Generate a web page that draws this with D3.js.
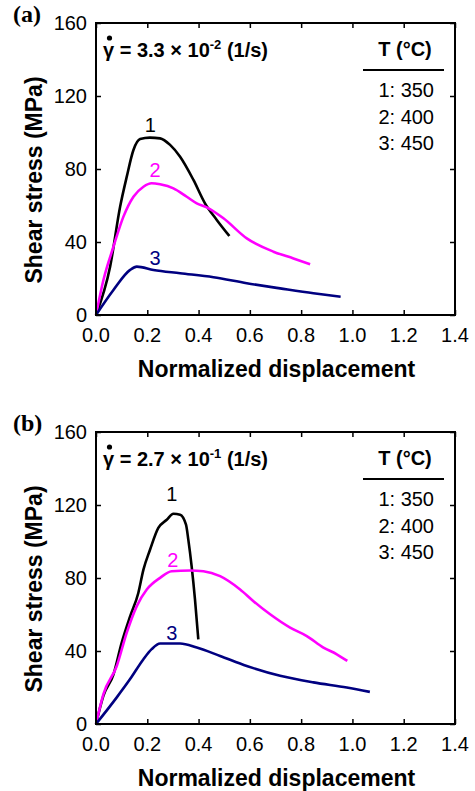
<!DOCTYPE html>
<html>
<head>
<meta charset="utf-8">
<script src="https://cdn.jsdelivr.net/npm/d3@7"></script>
<style>
  body { margin: 0; background: #fff; }
  text { font-family: "Liberation Sans", Arial, sans-serif; }
</style>
</head>
<body>
<script>
var xTicks = [0, 0.2, 0.4, 0.6, 0.8, 1.0, 1.2, 1.4];
var yTicks = [0, 40, 80, 120, 160];
var legendRows = ["1: 350", "2: 400", "3: 450"];

// panel (a), strain rate 3.3e-2
var a350 = [[0, 0], [0.055, 26.5], [0.094, 59.3], [0.12, 75.8], [0.146, 90.4], [0.172, 96.4], [0.21, 97.2], [0.25, 96.8],
    [0.289, 93.2], [0.328, 86.7], [0.38, 74.0], [0.425, 61.2], [0.471, 52.1], [0.52, 43.3]];
var a400 = [[0, 0], [0.029, 19.2], [0.068, 37.4], [0.107, 53.9], [0.146, 64.8], [0.185, 70.3], [0.217, 72.2], [0.25, 71.6],
    [0.302, 69.4], [0.354, 64.8], [0.393, 61.2], [0.432, 59.0], [0.497, 53.0], [0.588, 42.0], [0.692, 34.7],
    [0.77, 31.0], [0.835, 27.8]];
var a450 = [[0, 0], [0.068, 13.7], [0.133, 24.7], [0.159, 26.5], [0.224, 24.7], [0.328, 22.9], [0.458, 20.7],
    [0.588, 17.4], [0.718, 14.6], [0.848, 11.9], [0.954, 10.0]];

// panel (b), strain rate 2.7e-1
var b350 = [[0, 0], [0.029, 15.5], [0.068, 27.1], [0.1, 44.5], [0.133, 59.0], [0.165, 71.8], [0.185, 84.6], [0.211, 95.6],
    [0.243, 107.4], [0.276, 111.9], [0.302, 115.2], [0.328, 114.7], [0.351, 109.2], [0.36, 101.0], [0.373, 86.4],
    [0.386, 68.3], [0.399, 46.4]];
var b400 = [[0, 0], [0.029, 16.4], [0.081, 31.8], [0.12, 50.1], [0.159, 64.6], [0.198, 73.7], [0.25, 80.1], [0.295, 83.7],
    [0.367, 84.1], [0.419, 83.7], [0.484, 81.0], [0.562, 73.7], [0.614, 67.3], [0.679, 60.1], [0.757, 52.8],
    [0.822, 48.2], [0.887, 41.9], [0.939, 38.2], [0.98, 34.6]];
var b450 = [[0, 0], [0.081, 14.6], [0.133, 24.6], [0.185, 35.5], [0.217, 41.0], [0.25, 44.1], [0.328, 44.1], [0.393, 41.9],
    [0.484, 37.3], [0.588, 31.8], [0.718, 26.4], [0.848, 22.8], [0.978, 20.0], [1.068, 17.6]];

var colors = ["#000000", "#ff00ff", "#000080"];

var width = 475, height = 791,
    plotLeft = 96, plotRight = 455, plotH = 292;

var svg = d3.select("body").append("svg")
    .attr("width", width)
    .attr("height", height);

var x = d3.scaleLinear().domain([0, 1.4]).range([plotLeft, plotRight]);

function drawPanel(top, tag, rate, exp, series, labels) {
    var y = d3.scaleLinear().domain([0, 160]).range([top + plotH, top]);
    var g = svg.append("g");

    // tick marks on all four sides, pointing inward
    g.append("g").attr("transform", "translate(0," + (top + plotH) + ")")
        .call(d3.axisBottom(x).tickValues(xTicks).tickSizeInner(-5).tickSizeOuter(0).tickFormat(""))
        .call(function (s) { s.select(".domain").remove(); });
    g.append("g").attr("transform", "translate(0," + top + ")")
        .call(d3.axisTop(x).tickValues(xTicks).tickSizeInner(-5).tickSizeOuter(0).tickFormat(""))
        .call(function (s) { s.select(".domain").remove(); });
    g.append("g").attr("transform", "translate(" + plotLeft + ",0)")
        .call(d3.axisLeft(y).tickValues(yTicks).tickSizeInner(-5).tickSizeOuter(0).tickFormat(""))
        .call(function (s) { s.select(".domain").remove(); });
    g.append("g").attr("transform", "translate(" + plotRight + ",0)")
        .call(d3.axisRight(y).tickValues(yTicks).tickSizeInner(-5).tickSizeOuter(0).tickFormat(""))
        .call(function (s) { s.select(".domain").remove(); });
    g.selectAll(".tick line").attr("stroke", "#000").attr("stroke-width", 1.5);

    // tick labels
    g.selectAll(".xl").data(xTicks).enter().append("text")
        .attr("x", function (d) { return x(d); })
        .attr("y", top + plotH + 27)
        .attr("text-anchor", "middle")
        .attr("font-size", 20)
        .text(function (d) { return d.toFixed(1); });
    g.selectAll(".yl").data(yTicks).enter().append("text")
        .attr("x", plotLeft - 9)
        .attr("y", function (d) { return y(d); })
        .attr("dy", "0.36em")
        .attr("text-anchor", "end")
        .attr("font-size", 20)
        .text(function (d) { return d; });

    // curves
    var line = d3.line()
        .curve(d3.curveMonotoneX)
        .x(function (d) { return x(d[0]); })
        .y(function (d) { return y(d[1]); });
    series.forEach(function (s, i) {
        g.append("path")
            .datum(s)
            .attr("fill", "none")
            .attr("stroke", colors[i])
            .attr("stroke-width", 2.6)
            .attr("stroke-linejoin", "round")
            .attr("d", line);
    });
    labels.forEach(function (l, i) {
        g.append("text")
            .attr("x", x(l[0])).attr("y", y(l[1]))
            .attr("text-anchor", "middle")
            .attr("font-size", 20)
            .attr("fill", colors[i])
            .text(i + 1);
    });

    // frame
    g.append("rect")
        .attr("x", plotLeft).attr("y", top)
        .attr("width", plotRight - plotLeft).attr("height", plotH)
        .attr("fill", "none").attr("stroke", "#000").attr("stroke-width", 2);

    // axis titles
    g.append("text")
        .attr("x", (plotLeft + plotRight) / 2 + 1)
        .attr("y", top + plotH + 62)
        .attr("text-anchor", "middle")
        .attr("font-size", 23).attr("font-weight", "bold")
        .text("Normalized displacement");
    g.append("text")
        .attr("transform", "translate(42," + (top + plotH / 2 + 11) + ") rotate(-90)")
        .attr("text-anchor", "middle")
        .attr("font-size", 23).attr("font-weight", "bold")
        .text("Shear stress (MPa)");

    // panel tag
    g.append("text")
        .attr("x", 13).attr("y", top - 1)
        .style("font-family", "'Liberation Serif', 'Times New Roman', serif")
        .attr("font-size", 24).attr("font-weight", "bold")
        .text(tag);

    // strain rate annotation (gamma with a dot above)
    var ann = g.append("text")
        .attr("x", 103).attr("y", top + 34)
        .attr("font-size", 20).attr("font-weight", "bold");
    ann.append("tspan").text("\u03b3 = " + rate + " \u00d7 10");
    ann.append("tspan").attr("font-size", 13).attr("dy", -8).text(exp);
    ann.append("tspan").attr("dy", 8).text(" (1/s)");
    g.append("circle")
        .attr("cx", 109.5).attr("cy", top + 15)
        .attr("r", 2.6)
        .attr("fill", "#000");

    // legend
    g.append("text")
        .attr("x", 405).attr("y", top + 33)
        .attr("text-anchor", "middle")
        .attr("font-size", 20).attr("font-weight", "bold")
        .text("T (\u00b0C)");
    g.append("line")
        .attr("x1", 363).attr("x2", 444)
        .attr("y1", top + 47).attr("y2", top + 47)
        .attr("stroke", "#000").attr("stroke-width", 2);
    g.selectAll(".lg").data(legendRows).enter().append("text")
        .attr("x", 434)
        .attr("y", function (d, i) { return top + 74 + i * 26.5; })
        .attr("text-anchor", "end")
        .attr("font-size", 20)
        .text(function (d) { return d; });
}

drawPanel(23, "(a)", "3.3", "-2", [a350, a400, a450], [[0.212, 100.3], [0.23, 75.6], [0.23, 27.4]]);
drawPanel(432, "(b)", "2.7", "-1", [b350, b400, b450], [[0.296, 122.2], [0.3, 86], [0.296, 46]]);
</script>
</body>
</html>
